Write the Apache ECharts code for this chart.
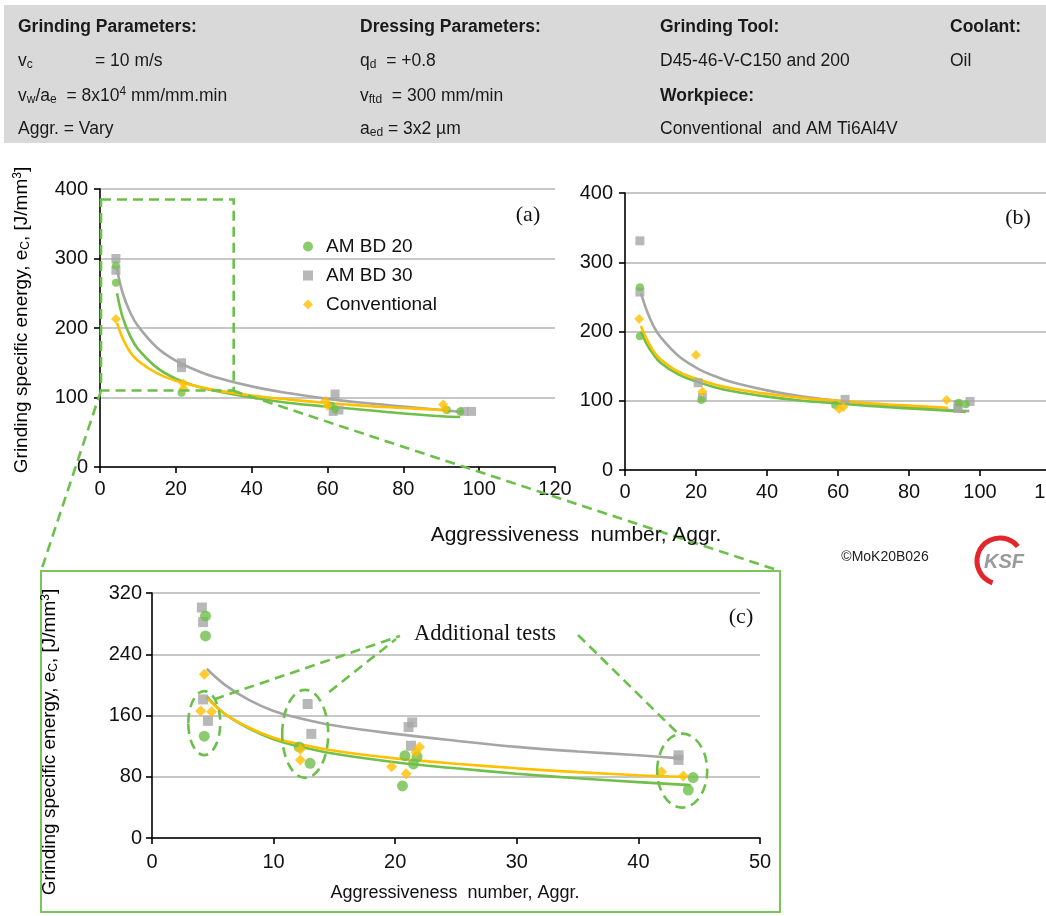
<!DOCTYPE html>
<html><head><meta charset="utf-8">
<script src="https://cdn.jsdelivr.net/npm/echarts@6/dist/echarts.min.js"></script>
<style>html,body{margin:0;padding:0;background:#fff}#c{width:1046px;height:916px}</style>
</head><body><div id="c"></div>
<script>
// ---------- data ----------
// Chart (a)
const aBD20 = [[4.2,290],[4.2,265],[21.5,107],[61,88],[62,83],[91.5,82],[95,80]];
const aBD30 = [[4.2,300],[4.2,283],[21.5,150],[21.5,143],[62,105],[61.5,80],[63,82],[96,80],[98,80]];
const aConv = [[4.2,213],[22,120],[22,113],[59.5,95],[60,88],[90.5,90],[91,83]];
const aFitBD20 = [[4.5,250],[6,215],[8,188],[10,170],[15,143],[20,127],[25,117],[30,110],[40,100],[50,92],[60,87],[70,82],[80,77],[90,73],[95,72]];
const aFitBD30 = [[4.5,285],[6,250],[8,222],[10,203],[15,172],[20,153],[25,140],[30,130],[40,116],[50,106],[60,98],[70,92],[80,87],[90,82],[96,79]];
const aFitConv = [[4.5,207],[6,185],[8,165],[10,153],[15,135],[20,124],[25,117],[30,111],[40,103],[50,97],[60,92],[70,88],[80,85],[90,82]];
// Chart (b)
const bBD20 = [[4.2,264],[4.2,193],[21.5,101],[59.2,94],[94,97],[96,95]];
const bBD30 = [[4.2,331],[4.2,257],[20.6,126],[21.8,105],[62,102],[93.8,94],[93.8,89],[97.2,99]];
const bConv = [[4,218],[20,166],[21.8,113],[60.3,88],[61.5,91],[90.6,101]];
const bFitBD20 = [[4.5,200],[6,183],[8,167],[10,155],[15,138],[20,128],[25,120],[30,114],[40,106],[50,100],[60,96],[70,92],[80,89],[90,86],[96,84]];
const bFitBD30 = [[4.5,255],[6,232],[8,208],[10,192],[15,165],[20,148],[25,136],[30,127],[40,115],[50,106],[60,100],[70,95],[80,91],[90,87],[97,85]];
const bFitConv = [[4.5,208],[6,190],[8,172],[10,160],[15,142],[20,132],[25,124],[30,118],[40,110],[50,104],[60,100],[70,96],[80,93],[91,90]];
// Chart (c)
const cBD20 = [[4.4,290],[4.4,264],[4.3,133],[12.1,119],[13.0,97.5],[20.8,107.5],[21.8,106],[21.5,96.7],[20.6,68],[44.5,79],[44.1,62.7]];
const cBD30 = [[4.1,301],[4.2,282],[4.2,181],[4.6,153],[12.8,175],[13.1,136],[21.1,145],[21.4,151],[21.3,120.5],[43.3,108],[43.3,102]];
const cConv = [[4.3,214],[4.0,166],[4.9,165],[12.2,116],[12.2,102],[22.0,119],[21.7,112],[19.7,93],[20.9,84],[41.9,86.6],[43.7,81]];
const cFitBD20 = [[4.5,185],[6,162],[8,143],[10,129],[12,120],[15,110],[20,99],[25,91],[30,84],[35,78],[40,73],[44.3,69]];
const cFitBD30 = [[4.5,221],[6,200],[8,180],[10,166],[12,157],[15,147],[20,136],[25,127],[30,119],[35,113],[40,108],[43.5,104]];
const cFitConv = [[4.5,183],[6,162],[8,144],[10,131],[12,123],[15,114],[20,104],[25,97],[30,91],[35,86],[40,82],[43.7,80]];
// Ticks / ranges
const xTicksAB = {min:0, max:120, interval:20};
const yTicksAB = {min:0, max:400, interval:100};
const xTicksC = {min:0, max:50, interval:10};
const yTicksC = {min:0, max:320, interval:80};
const seriesNames = ['AM BD 20','AM BD 30','Conventional'];
// Annotation regions (data space)
const zoomRect = [[0,385],[35,110]];
const addEllipses = [[4.3,150],[12.6,136],[43.6,88]];

// ---------- style ----------
const F = "'Liberation Sans Narrow','Arial Narrow','Liberation Sans',Arial,sans-serif";
const SERIF = "'Liberation Serif','DejaVu Serif',serif";
const GREEN = '#6fbf4a', GRAY = '#a6a6a6', ORANGE = '#ffc000';
const DASH = '#6cc04a';

const chart = echarts.init(document.getElementById('c'), null, {renderer:'canvas'});

function xAxis(gi, t, margin){
  return {gridIndex:gi, type:'value', min:t.min, max:t.max, interval:t.interval,
    axisLine:{show:true,onZero:false,lineStyle:{color:'#000',width:1.6}},
    axisTick:{show:true,length:6,lineStyle:{color:'#000',width:1.6}},
    axisLabel:{fontSize:20,color:'#111',margin:margin,fontFamily:F,showMaxLabel:true},
    splitLine:{show:false}};
}
function yAxis(gi, t, margin){
  return {gridIndex:gi, type:'value', min:t.min, max:t.max, interval:t.interval,
    axisLine:{show:true,onZero:false,lineStyle:{color:'#000',width:1.6}},
    axisTick:{show:true,length:6,lineStyle:{color:'#000',width:1.6}},
    axisLabel:{fontSize:20,color:'#111',margin:margin,fontFamily:F},
    splitLine:{show:true,lineStyle:{color:'#b5b5b5',width:1.6}}};
}
function sc(name, data, gi, sym, size, color){
  return {type:'scatter', name, data, xAxisIndex:gi, yAxisIndex:gi, symbol:sym, symbolSize:size,
    itemStyle:{color}, z:5, silent:true};
}
function fit(data, gi, color){
  return {type:'line', data, xAxisIndex:gi, yAxisIndex:gi, smooth:0.4, showSymbol:false,
    lineStyle:{color, width:2.6}, z:3, silent:true};
}

const yNameRich = {
  b:{fontSize:19,fontFamily:F,color:'#111'},
  sub:{fontSize:12,fontFamily:F,color:'#111',padding:[8,0,0,0]},
  sup:{fontSize:12,fontFamily:F,color:'#111',padding:[0,0,8,0]}
};
const yNameText = '{b|Grinding specific energy, e}{sub|C}{b|, [J/mm}{sup|3}{b|]}';

const hdrRich = {
  n:{fontSize:17.5,fontFamily:F,color:'#1a1a1a'},
  s:{fontSize:12,fontFamily:F,color:'#1a1a1a',padding:[8,0,0,0]},
  p:{fontSize:12,fontFamily:F,color:'#1a1a1a',padding:[0,0,8,0]},
  bo:{fontSize:17.5,fontFamily:F,color:'#1a1a1a',fontWeight:'bold'}
};
function ht(x,y,text){ return {type:'text', x, y, z:10, style:{text, rich:hdrRich, fontSize:17.5, fontFamily:F, fill:'#1a1a1a', verticalAlign:'middle', align:'left'}}; }

const baseGraphic = [
  {type:'rect', shape:{x:4,y:5,width:1046,height:138}, style:{fill:'#d9d9d9'}, z:0},
  ht(18,27,'{bo|Grinding Parameters:}'),
  ht(360,27,'{bo|Dressing Parameters:}'),
  ht(660,27,'{bo|Grinding Tool:}'),
  ht(950,27,'{bo|Coolant:}'),
  ht(18,61,'{n|v}{s|c}'), ht(95,61,'{n|= 10 m/s}'),
  ht(360,61,'{n|q}{s|d}{n|  = +0.8}'),
  ht(660,61,'{n|D45-46-V-C150 and 200}'),
  ht(950,61,'{n|Oil}'),
  ht(18,96,'{n|v}{s|w}{n|/a}{s|e}{n|  = 8x10}{p|4}{n| mm/mm.min}'),
  ht(360,96,'{n|v}{s|ftd}{n|  = 300 mm/min}'),
  ht(660,96,'{bo|Workpiece:}'),
  ht(18,129,'{n|Aggr. = Vary}'),
  ht(360,129,'{n|a}{s|ed}{n| = 3x2 µm}'),
  ht(660,129,'{n|Conventional  and AM Ti6Al4V}'),
  // axis names
  {type:'text', x:22, y:320, rotation:Math.PI/2, z:10, style:{text:yNameText, rich:yNameRich, align:'center', verticalAlign:'middle'}},
  {type:'text', x:50, y:742, rotation:Math.PI/2, z:10, style:{text:yNameText, rich:yNameRich, align:'center', verticalAlign:'middle'}},
  {type:'text', x:576, y:535, z:10, style:{text:'Aggressiveness  number, Aggr.', fontSize:21, fontFamily:F, fill:'#111', align:'center', verticalAlign:'middle'}},
  {type:'text', x:455, y:893, z:10, style:{text:'Aggressiveness  number, Aggr.', fontSize:18, fontFamily:F, fill:'#111', align:'center', verticalAlign:'middle'}},
  // panel tags
  {type:'text', x:528, y:215, z:10, style:{text:'(a)', fontSize:22, fontFamily:SERIF, fill:'#111', align:'center', verticalAlign:'middle'}},
  {type:'text', x:1018, y:218, z:10, style:{text:'(b)', fontSize:22, fontFamily:SERIF, fill:'#111', align:'center', verticalAlign:'middle'}},
  {type:'text', x:741, y:617, z:10, style:{text:'(c)', fontSize:22, fontFamily:SERIF, fill:'#111', align:'center', verticalAlign:'middle'}},
  {type:'text', x:485, y:634, z:10, style:{text:'Additional tests', fontSize:22.5, fontFamily:SERIF, fill:'#111', align:'center', verticalAlign:'middle'}},
  // box (c)
  {type:'rect', shape:{x:41,y:571,width:739,height:341}, style:{fill:null, stroke:'#7cc35a', lineWidth:2}, z:1},
  // copyright + logo
  {type:'text', x:885, y:557, z:10, style:{text:'©MoK20B026', fontSize:14, fontFamily:F, fill:'#222', align:'center', verticalAlign:'middle'}},
  {type:'arc', shape:{cx:1000, cy:561, r:23, startAngle:1.9, endAngle:5.6, clockwise:true}, style:{stroke:'#e3262b', lineWidth:5, fill:null}, z:10},
  {type:'text', x:1004, y:562, z:11, style:{text:'KSF', fontSize:20, fontStyle:'italic', fontWeight:'bold', fontFamily:F, fill:'#9a9a9a', align:'center', verticalAlign:'middle'}}
];

const option = {
  animation:false,
  backgroundColor:'#fff',
  grid:[
    {left:100, top:189, width:455, height:278, outerBoundsMode:'none', containLabel:false},
    {left:625, top:193, width:426, height:277, outerBoundsMode:'none', containLabel:false},
    {left:152, top:593, width:608, height:245, outerBoundsMode:'none', containLabel:false}
  ],
  xAxis:[xAxis(0,xTicksAB,12), xAxis(1,xTicksAB,12), xAxis(2,xTicksC,14)],
  yAxis:[yAxis(0,yTicksAB,12), yAxis(1,yTicksAB,12), yAxis(2,yTicksC,10)],
  legend:{
    left:298, top:231, orient:'vertical', itemGap:8, itemWidth:10, itemHeight:10,
    textStyle:{fontSize:19, fontFamily:F, color:'#111', padding:[0,0,0,8], lineHeight:21},
    data:[
      {name:seriesNames[0], icon:'circle', itemStyle:{color:GREEN}},
      {name:seriesNames[1], icon:'rect', itemStyle:{color:GRAY}},
      {name:seriesNames[2], icon:'diamond', itemStyle:{color:ORANGE}}
    ],
    selectedMode:false
  },
  series:[
    fit(aFitBD30,0,GRAY), fit(aFitBD20,0,GREEN), fit(aFitConv,0,ORANGE),
    sc(seriesNames[1],aBD30,0,'rect',9,GRAY), sc(seriesNames[0],aBD20,0,'circle',8,GREEN), sc(seriesNames[2],aConv,0,'diamond',10,ORANGE),
    fit(bFitBD30,1,GRAY), fit(bFitBD20,1,GREEN), fit(bFitConv,1,ORANGE),
    sc(seriesNames[1],bBD30,1,'rect',9,GRAY), sc(seriesNames[0],bBD20,1,'circle',8,GREEN), sc(seriesNames[2],bConv,1,'diamond',10,ORANGE),
    fit(cFitBD30,2,GRAY), fit(cFitBD20,2,GREEN), fit(cFitConv,2,ORANGE),
    sc(seriesNames[1],cBD30,2,'rect',10,GRAY), sc(seriesNames[0],cBD20,2,'circle',11,GREEN), sc(seriesNames[2],cConv,2,'diamond',11,ORANGE)
  ],
  graphic: baseGraphic
};
chart.setOption(option);

// annotations placed through the axes' scales
const p = (gi, v) => chart.convertToPixel({gridIndex:gi}, v);
const r0 = p(0, zoomRect[0]), r1 = p(0, zoomRect[1]);
const dashStyle = {stroke:DASH, lineWidth:2.6, lineDash:[10,6], fill:null};
const ann = [];
ann.push({type:'rect', shape:{x:r0[0]+1, y:r0[1], width:r1[0]-r0[0], height:r1[1]-r0[1]}, style:dashStyle, z:8});
ann.push({type:'polyline', shape:{points:[[r0[0]+1,r1[1]],[41,571]]}, style:dashStyle, z:8});
ann.push({type:'polyline', shape:{points:[[r1[0],r1[1]],[780,571]]}, style:dashStyle, z:8});
const ellR = [[16,32],[23,44],[25,37]];
const e = addEllipses.map((v,i)=>{ const q = p(2, v); return [q[0], q[1], ellR[i][0], ellR[i][1]]; });
e.forEach(q => ann.push({type:'ellipse', shape:{cx:q[0], cy:q[1], rx:q[2], ry:q[3]}, style:dashStyle, z:8}));
ann.push({type:'polyline', shape:{points:[[e[0][0]+10, e[0][1]-e[0][3]+8],[400,636]]}, style:dashStyle, z:8});
ann.push({type:'polyline', shape:{points:[[e[1][0]+24, e[1][1]-e[1][3]+2],[396,639]]}, style:dashStyle, z:8});
ann.push({type:'polyline', shape:{points:[[578,635],[e[2][0]-4, e[2][1]-e[2][3]]]}, style:dashStyle, z:8});
chart.setOption({graphic: baseGraphic.concat(ann)});
</script>
</body></html>
